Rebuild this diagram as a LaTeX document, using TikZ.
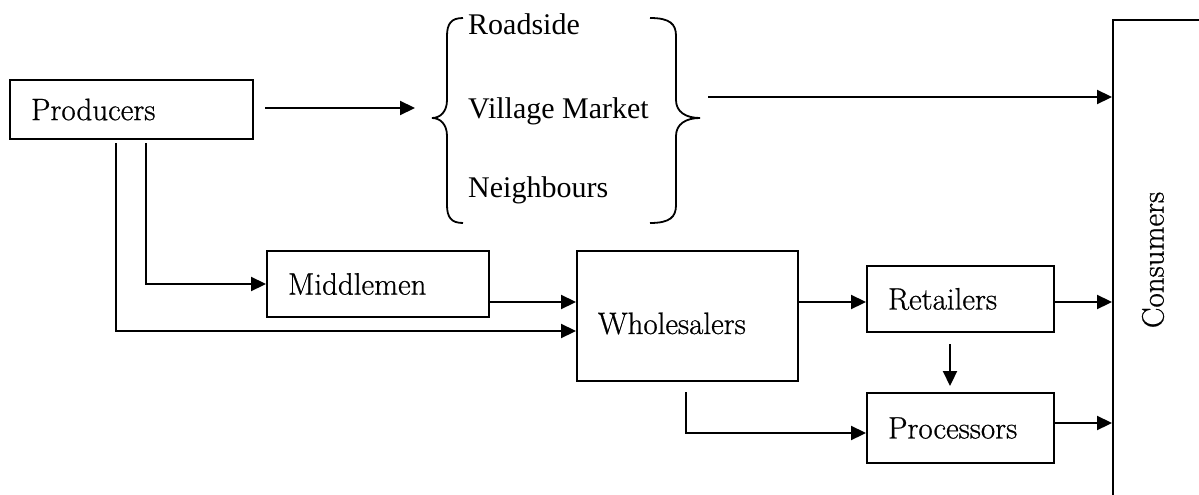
\documentclass[tikz,border=0pt]{standalone}
\usepackage{fontspec}
\newfontfamily\boxf{Latin Modern Roman}[FakeBold=0.7]
\newfontfamily\timesf{Liberation Serif}
\usetikzlibrary{arrows.meta,calc}
\begin{document}
\begin{tikzpicture}[x=1pt,y=-1pt,
  box/.style={draw, line width=2pt, anchor=north west, align=left, inner xsep=21pt, inner ysep=0pt,
    font=\boxf\fontsize{31}{35}\selectfont},
  arr/.style={line width=2.2pt, -{Triangle[length=15pt,width=14pt]}},
  brace/.style={line width=1.8pt},
  btext/.style={anchor=base west, inner sep=0pt, font=\timesf\fontsize{30}{34}\selectfont}]
\useasboundingbox (0,0) rectangle (1199,495);
\clip (0,0) rectangle (1199,495);
% boxes
\node[box, text width=201pt, minimum height=59pt] (prod) at (9,79) {Producers};
\node[box, text width=180pt, minimum height=66pt] (mid) at (266,250) {Middlemen};
\node[box, text width=179pt, minimum height=130pt, text height=44pt, text depth=8pt] (whole) at (576,250) {Wholesalers};
\node[box, text width=145pt, minimum height=66pt] (ret) at (866,265) {Retailers};
\node[box, text width=145pt, minimum height=70pt] (proc) at (866,392) {Processors};
\node[draw, line width=2pt, anchor=north west, minimum width=150pt, minimum height=520pt] (cons) at (1112,19) {};
\node[rotate=90, font=\boxf\fontsize{31}{35}\selectfont] (constext) at (1153,260) {Consumers};
% brace texts
\node[btext] (road) at (468,35) {Roadside};
\node[btext] (vill) at (468,118) {Village Market};
\node[btext] (neigh) at (468,197) {Neighbours};
% braces
\coordinate (bl) at (432,118);
\coordinate (br) at (700,118);
\draw[brace] (463,18) .. controls (451,18) and (447,24) .. (447,36)
  -- (447,100) .. controls (447,112) and (440,118) .. (bl)
  .. controls (440,118) and (447,124) .. (447,136)
  -- (447,205) .. controls (447,217) and (451,223) .. (463,223);
\draw[brace] (650,18) .. controls (670,18) and (676,24) .. (676,36)
  -- (676,100) .. controls (676,112) and (686,118) .. (br)
  .. controls (686,118) and (676,124) .. (676,136)
  -- (676,205) .. controls (676,217) and (670,223) .. (650,223);
% connector points
\coordinate (p1) at (265,108);
\coordinate (p2) at (415,108);
\coordinate (b1) at (708,97);
\coordinate (d1) at (146,143);
\coordinate (d2) at (116,143);
\coordinate (w1) at (686,392);
\coordinate (r1) at (950,344);
% connectors
\draw[arr] (p1) -- (p2);
\draw[arr] (b1) -- (b1 -| cons.west);
\draw[arr] (d1) |- (mid.west);
\draw[arr] (d2) |- (whole.west |- 0,331);
\draw[arr] (mid.east |- 0,302) -- (whole.west |- 0,302);
\draw[arr] (whole.east |- 0,302) -- (ret.west |- 0,302);
\draw[arr] (ret.east |- 0,302) -- (cons.west |- 0,302);
\draw[arr] (r1) -- (r1 |- 0,386);
\draw[arr] (w1) |- (proc.west |- 0,433);
\draw[arr] (proc.east |- 0,423) -- (cons.west |- 0,423);
\end{tikzpicture}
\end{document}
